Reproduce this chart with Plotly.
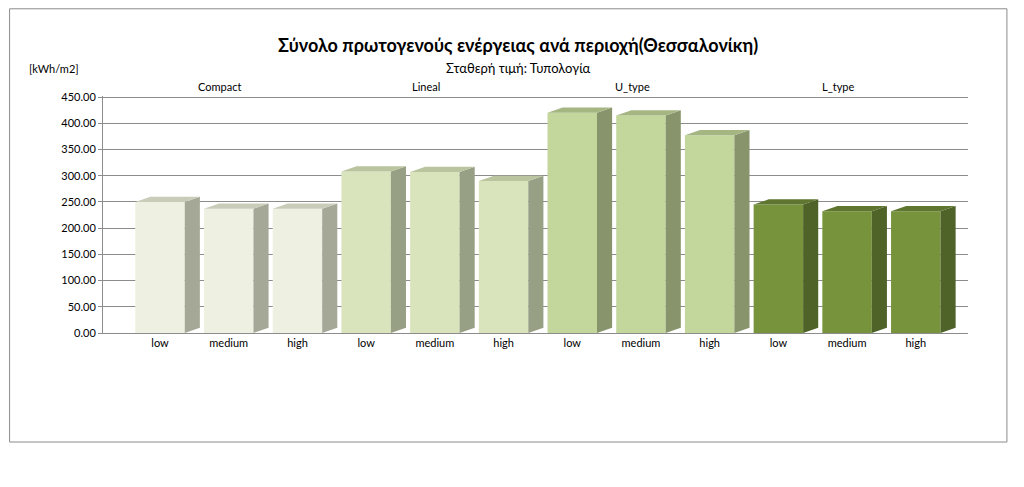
import plotly.graph_objects as go

groups = ['Compact', 'Lineal', 'U_type', 'L_type']
levels = ['low', 'medium', 'high']
values = [250, 237, 237, 308, 307, 290, 420, 415, 377, 245, 232, 232]
front = ['#EEF1E1', '#D9E4BD', '#C3D69B', '#77933C']
side = ['#A5A896', '#979F84', '#88956C', '#4F6328']
top = ['#C9CCB8', '#BAC49E', '#A6B683', '#5E7630']

x = list(range(len(values)))
ticks = levels * len(groups)
colors = [front[i // 3] for i in x]

fig = go.Figure(go.Bar(x=x, y=values, width=0.72, marker_color=colors,
                       marker_line_width=0, showlegend=False, hoverinfo='y'))

# fake 3D: side and top faces derived from the bar values
dx, dy, hw = 0.22, 10, 0.36
shapes = []
for i, v in enumerate(values):
    g = i // 3
    shapes.append(dict(type='path', xref='x', yref='y', line_width=0,
                       fillcolor=side[g],
                       path=f'M{i+hw},0 L{i+hw+dx},{dy} L{i+hw+dx},{v+dy} L{i+hw},{v} Z'))
    shapes.append(dict(type='path', xref='x', yref='y', line_width=0,
                       fillcolor=top[g],
                       path=f'M{i-hw},{v} L{i+hw},{v} L{i+hw+dx},{v+dy} L{i-hw+dx},{v+dy} Z'))
shapes.append(dict(type='rect', xref='paper', yref='paper', x0=-0.108, x1=1.045,
                   y0=-0.46, y1=1.368, line=dict(color='#8C8C8C', width=1)))

annotations = [dict(text='<b>Σύνολο πρωτογενούς ενέργειας ανά περιοχή(Θεσσαλονίκη)</b>',
                    xref='paper', yref='paper', x=0.48, y=1.27, showarrow=False,
                    font=dict(size=18, color='black')),
               dict(text='Σταθερή τιμή: Τυπολογία', xref='paper', yref='paper',
                    x=0.48, y=1.16, showarrow=False, font=dict(size=13, color='black')),
               dict(text='[kWh/m2]', xref='paper', yref='paper', x=-0.088, y=1.15,
                    xanchor='left', showarrow=False, font=dict(size=11, color='black'))]
for k, name in enumerate(groups):
    annotations.append(dict(text=name, xref='x', yref='paper', x=3 * k + 0.87,
                            y=1.075, showarrow=False, font=dict(size=11, color='black')))

fig.update_layout(
    width=1024, height=487, autosize=False,
    margin=dict(l=95, r=64, t=88, b=162),
    plot_bgcolor='white', paper_bgcolor='white',
    font=dict(family='Lato', color='black', size=11),
    shapes=shapes, annotations=annotations,
)
fig.update_xaxes(range=[-0.83, 11.76], tickvals=x, ticktext=ticks, showgrid=False,
                 showline=True, linecolor='#8C8C8C', ticks='')
fig.update_yaxes(range=[0, 452], tickvals=list(range(0, 451, 50)), tickformat='.2f',
                 showgrid=True, gridcolor='#8C8C8C', showline=True, linecolor='#8C8C8C',
                 ticks='outside', ticklen=4, tickcolor='#8C8C8C', zeroline=False)

fig.write_html('out.html')
